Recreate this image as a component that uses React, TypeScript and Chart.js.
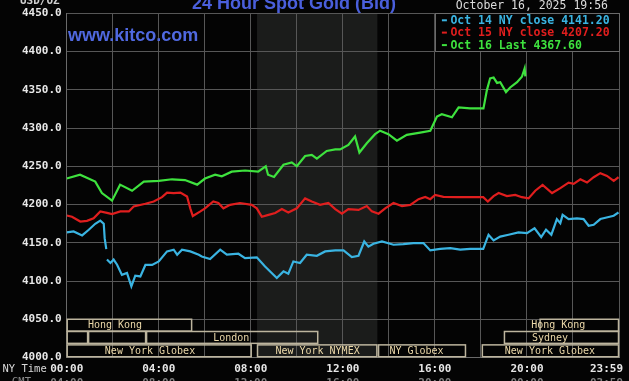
import React, { useEffect, useRef } from 'react';
import { Chart, registerables } from 'chart.js';

Chart.register(...registerables);

// ---- data (hours since 00:00 NY time, price in USD/oz; null = gap in the feed) ----
const oct14: [number, number | null][] = [
  [0, 4163.5], [0.3, 4164.8], [0.67, 4159.6], [0.96, 4167], [1.24, 4174.8], [1.46, 4179], [1.61, 4174.8],
  [1.65, 4156], [1.72, 4141.8], [1.73, null], [1.75, 4128], [1.9, 4123.5], [2.04, 4128], [2.19, 4121.3], [2.4, 4108],
  [2.62, 4110.5], [2.81, 4093], [2.98, 4107], [3.2, 4106], [3.42, 4121], [3.71, 4121], [4.0, 4125.6],
  [4.36, 4138.7], [4.65, 4141], [4.8, 4134.4], [5.01, 4141], [5.37, 4138.7], [5.74, 4134.4], [5.87, 4132],
  [6.23, 4128.7], [6.67, 4141], [6.96, 4134.4], [7.46, 4135.7], [7.75, 4130], [8.26, 4131], [8.62, 4119],
  [9.13, 4104], [9.42, 4112.6], [9.63, 4109.6], [9.85, 4125.6], [10.14, 4123.5], [10.43, 4134.4],
  [10.87, 4133], [11.23, 4138.7], [11.67, 4140], [12.03, 4140], [12.39, 4131.4], [12.68, 4133],
  [12.93, 4151.7], [13.11, 4145], [13.33, 4148.7], [13.7, 4151.7], [14.2, 4147.4], [14.63, 4148.3],
  [15.07, 4149.6], [15.5, 4149.6], [15.8, 4140], [16.23, 4142], [16.67, 4143], [17.1, 4141], [17.53, 4142],
  [18.1, 4142], [18.33, 4160.5], [18.55, 4153], [18.84, 4158], [19.2, 4160.5], [19.63, 4163.5], [20.0, 4162.6],
  [20.33, 4169], [20.62, 4157.4], [20.83, 4167], [21.06, 4160.5], [21.3, 4181], [21.45, 4175.7], [21.55, 4186.5],
  [21.81, 4181], [22.17, 4182], [22.46, 4181], [22.68, 4172.2], [22.9, 4173.5], [23.19, 4181], [23.55, 4183.7],
  [23.77, 4185.3], [23.98, 4189.6],
];

const oct15: [number, number | null][] = [
  [0, 4185.6], [0.23, 4184], [0.59, 4177.8], [0.88, 4178.7], [1.17, 4182], [1.46, 4191], [1.75, 4189],
  [1.97, 4187.5], [2.33, 4191], [2.7, 4191], [2.91, 4197.4], [3.42, 4201], [3.78, 4204], [4.14, 4209.6],
  [4.36, 4215.6], [4.65, 4215], [4.94, 4215.6], [5.23, 4210.4], [5.37, 4195], [5.48, 4185], [5.81, 4191],
  [6.01, 4195], [6.37, 4204], [6.59, 4202], [6.81, 4195], [7.1, 4199.6], [7.53, 4202], [8.04, 4199.6],
  [8.26, 4195], [8.48, 4184], [8.77, 4186.5], [9.06, 4189], [9.35, 4194], [9.63, 4189.5], [10.0, 4195],
  [10.36, 4208], [10.65, 4204], [11.01, 4199.6], [11.37, 4202], [11.67, 4194], [11.96, 4188], [12.24, 4194],
  [12.68, 4193], [13.04, 4198], [13.26, 4191], [13.55, 4188], [13.84, 4195], [14.2, 4202], [14.57, 4198],
  [14.93, 4199.6], [15.29, 4207], [15.58, 4210], [15.8, 4207], [16.01, 4212.6], [16.37, 4210], [16.96, 4209.6],
  [18.1, 4209.6], [18.3, 4204], [18.55, 4211], [18.77, 4215], [19.13, 4211], [19.49, 4212.6], [19.78, 4209.6],
  [20.07, 4208], [20.36, 4218], [20.68, 4225.6], [21.09, 4215], [21.45, 4221.4], [21.81, 4228.7], [22.03, 4227],
  [22.32, 4233], [22.61, 4228.7], [22.9, 4235.7], [23.19, 4241], [23.48, 4237.4], [23.77, 4231], [23.98, 4235.7],
];

const oct16: [number, number | null][] = [
  [0, 4234], [0.58, 4239], [1.24, 4230], [1.53, 4215], [1.97, 4205], [2.32, 4226], [2.84, 4218], [3.35, 4230],
  [4.0, 4231], [4.58, 4233], [5.14, 4232], [5.67, 4226], [6.01, 4234], [6.45, 4239], [6.74, 4237], [7.17, 4243],
  [7.75, 4244.5], [8.32, 4243], [8.65, 4250], [8.75, 4239], [9.01, 4236], [9.42, 4252], [9.78, 4255], [10.0, 4250],
  [10.36, 4263.5], [10.65, 4265], [10.87, 4260], [11.3, 4270], [11.67, 4272], [11.88, 4272], [12.24, 4278],
  [12.53, 4289], [12.72, 4268], [13.04, 4280], [13.4, 4292], [13.62, 4296.5], [13.98, 4292], [14.35, 4283.5],
  [14.78, 4291], [15.36, 4294], [15.8, 4296.5], [16.09, 4315], [16.3, 4318], [16.74, 4314], [17.03, 4327],
  [17.53, 4325.7], [18.11, 4325.7], [18.26, 4349.6], [18.4, 4365], [18.55, 4366], [18.7, 4359], [18.84, 4360],
  [19.09, 4347], [19.27, 4353], [19.57, 4360], [19.78, 4367], [19.9, 4378], [19.93, 4367.6],
];

const seriesColors = ['#3ab4e2', '#e01e1e', '#3ee23e'];
const legendLabels = ['Oct 14 NY close 4141.20', 'Oct 15 NY close 4207.20', 'Oct 16 Last 4367.60'];

const yTickValues = [4000, 4050, 4100, 4150, 4200, 4250, 4300, 4350, 4400, 4450];
const gridHours = [0, 2, 4, 6, 8, 10, 12, 14, 16, 18, 20, 22, 24];
const xLabelHours = [0, 4, 8, 12, 16, 20, 23.9833];
const nyTimeLabels = ['00:00', '04:00', '08:00', '12:00', '16:00', '20:00', '23:59'];
const gmtLabels = ['04:00', '08:00', '12:00', '16:00', '20:00', '00:00', '03:59'];

const nymexShade = [8.27, 13.5];

const sessionNames = ['Hong Kong', 'Hong Kong', '', '', 'London', 'Sydney', 'New York Globex', 'New York NYMEX', 'NY Globex', 'New York Globex'];
const sessionRows = [0, 0, 1, 1, 1, 1, 2, 2, 2, 2];
const sessionStarts = [0, 20.55, 0, 0.93, 3.45, 19.0, 0, 8.27, 13.53, 18.04];
const sessionEnds = [5.45, 24, 0.93, 3.45, 10.93, 24, 8.04, 13.5, 17.35, 24];
const sessionLabelAt = [2.1, 21.36, 0, 0, 7.15, 21.0, 3.62, 10.9, 15.2, 21.0];

const titleText = '24 Hour Spot Gold (Bid)';
const siteText = 'www.kitco.com';
const dateText = 'October 16, 2025 19:56';
const unitText = 'USD/OZ';

const MONO = '"DejaVu Sans Mono", "Liberation Mono", monospace';
const SANS = '"Liberation Sans", Arial, sans-serif';

const decorPlugin = {
  id: 'kitcoDecor',
  beforeDraw(chart: any) {
    const { ctx, chartArea: a, scales } = chart;
    const x = scales.x;
    ctx.save();
    ctx.fillStyle = '#040404';
    ctx.fillRect(0, 0, chart.width, chart.height);
    const x0 = x.getPixelForValue(nymexShade[0]);
    const x1 = x.getPixelForValue(nymexShade[1]);
    ctx.fillStyle = '#1b1c1b';
    ctx.fillRect(x0, a.top, x1 - x0, a.bottom - a.top);
    ctx.restore();
  },
  afterDatasetsDraw(chart: any) {
    const { ctx, chartArea: a, scales } = chart;
    const x = scales.x;
    const y = scales.y;
    ctx.save();

    // session boxes
    const rowTops = [4050, 4034, 4016.5];
    const rowH = 15.5;
    for (let i = 0; i < sessionNames.length; i++) {
      const r = sessionRows[i];
      const px0 = x.getPixelForValue(sessionStarts[i]);
      const px1 = x.getPixelForValue(sessionEnds[i]);
      const py0 = y.getPixelForValue(rowTops[r]);
      const py1 = y.getPixelForValue(rowTops[r] - rowH);
      ctx.strokeStyle = '#bdb59e';
      ctx.lineWidth = 1.5;
      ctx.strokeRect(px0 + 0.5, py0, px1 - px0 - 1, py1 - py0);
      if (sessionNames[i]) {
        ctx.fillStyle = '#ead7a8';
        ctx.font = `10px ${MONO}`;
        ctx.textAlign = 'center';
        ctx.textBaseline = 'middle';
        ctx.fillText(sessionNames[i], x.getPixelForValue(sessionLabelAt[i]), (py0 + py1) / 2 + 0.5);
      }
    }

    // legend box
    const lx = x.getPixelForValue(16);
    const ly1 = y.getPixelForValue(4400);
    ctx.fillStyle = '#040404';
    ctx.fillRect(lx, a.top, a.right - lx, ly1 - a.top);
    ctx.strokeStyle = '#6a6a6a';
    ctx.lineWidth = 1;
    ctx.strokeRect(Math.round(lx) + 0.5, Math.round(a.top) + 0.5, Math.round(a.right - lx), Math.round(ly1 - a.top));
    const rowsY = [7, 19.3, 31.8];
    ctx.font = `bold 11.5px ${MONO}`;
    ctx.textAlign = 'left';
    ctx.textBaseline = 'middle';
    for (let i = 0; i < legendLabels.length; i++) {
      const ty = a.top + rowsY[i];
      ctx.fillStyle = seriesColors[i];
      ctx.fillRect(lx + 7, ty - 1, 5, 2);
      ctx.fillText(legendLabels[i], lx + 15.5, ty + 0.5);
    }
    ctx.restore();
  },
  afterDraw(chart: any) {
    const { ctx, chartArea: a, scales } = chart;
    const x = scales.x;
    ctx.save();

    // title (cut at top)
    ctx.fillStyle = '#4a5fdc';
    ctx.font = `bold 18px ${SANS}`;
    ctx.textAlign = 'center';
    ctx.textBaseline = 'alphabetic';
    ctx.fillText(titleText, 294, 9);

    // site
    ctx.fillStyle = '#5069e0';
    ctx.font = `bold 18px ${SANS}`;
    ctx.textAlign = 'left';
    ctx.fillText(siteText, 68, 41);

    // unit (cut at top)
    ctx.fillStyle = '#d0d0d0';
    ctx.font = `bold 11px ${MONO}`;
    ctx.fillText(unitText, 20, 3.5);

    // date
    ctx.fillStyle = '#dcdcdc';
    ctx.font = `11.5px ${MONO}`;
    ctx.textAlign = 'right';
    ctx.textBaseline = 'middle';
    ctx.fillText(dateText, 608, 6);

    // x labels
    const labelY = a.bottom + 12;
    ctx.textBaseline = 'middle';
    ctx.textAlign = 'left';
    ctx.font = `10.5px ${MONO}`;
    ctx.fillStyle = '#d8d8d8';
    ctx.fillText('NY Time', 2.5, labelY);
    ctx.fillStyle = '#8a8a8a';
    ctx.textBaseline = 'top';
    ctx.fillText('GMT', 12, a.bottom + 20);

    ctx.font = `bold 11px ${MONO}`;
    for (let i = 0; i < xLabelHours.length; i++) {
      const px = x.getPixelForValue(xLabelHours[i]);
      for (const [labels, color, base, yy] of [
        [nyTimeLabels, '#e6e6e6', 'middle', labelY],
        [gmtLabels, '#7c7c7c', 'top', a.bottom + 20],
      ] as [string[], string, CanvasTextBaseline, number][]) {
        const t = labels[i];
        const w = ctx.measureText(t).width;
        let cx = px;
        if (cx + w / 2 > chart.width - 6) cx = chart.width - 6 - w / 2;
        ctx.fillStyle = color;
        ctx.textAlign = 'center';
        ctx.textBaseline = base;
        ctx.fillText(t, cx, yy);
      }
    }
    ctx.restore();
  },
};

export default function App() {
  const ref = useRef<HTMLCanvasElement | null>(null);
  useEffect(() => {
    document.body.style.margin = '0';
    document.body.style.background = '#040404';
    const canvas = ref.current;
    if (!canvas) return;
    const toPts = (arr: [number, number | null][]) => arr.map(([t, v]) => ({ x: t, y: v }));
    const chart = new Chart(canvas, {
      type: 'line',
      data: {
        datasets: [oct14, oct15, oct16].map((s, i) => ({
          label: legendLabels[i],
          data: toPts(s),
          borderColor: seriesColors[i],
          borderWidth: 2.2,
          pointRadius: 0,
          tension: 0,
          fill: false,
          spanGaps: false,
        })),
      },
      options: {
        animation: false,
        responsive: false,
        devicePixelRatio: 1,
        layout: { padding: { top: 13.3, right: 10, left: 0, bottom: 0 } },
        plugins: {
          legend: { display: false },
          tooltip: { enabled: false },
          title: { display: false },
        },
        scales: {
          x: {
            type: 'linear',
            min: 0,
            max: 24,
            afterBuildTicks: (s: any) => {
              s.ticks = gridHours.map((v) => ({ value: v }));
            },
            afterFit: (s: any) => {
              s.height = 23.5;
            },
            ticks: { display: false },
            grid: { color: '#575757', drawTicks: false, lineWidth: 1 },
            border: { color: '#6a6a6a' },
          },
          y: {
            type: 'linear',
            min: 4000,
            max: 4450,
            afterBuildTicks: (s: any) => {
              s.ticks = yTickValues.map((v) => ({ value: v }));
            },
            afterFit: (s: any) => {
              s.width = 66.7;
            },
            ticks: {
              callback: (v: any) => Number(v).toFixed(1),
              color: '#e8e8e8',
              font: { family: MONO, size: 11, weight: 'bold' },
              padding: 5,
            },
            grid: { color: '#575757', drawTicks: false, lineWidth: 1 },
            border: { color: '#6a6a6a' },
          },
        },
      } as any,
      plugins: [decorPlugin],
    });
    return () => chart.destroy();
  }, []);
  return (
    <div style={{ width: 629, height: 381, background: '#040404' }}>
      <canvas ref={ref} width={629} height={381} style={{ display: 'block' }} />
    </div>
  );
}
